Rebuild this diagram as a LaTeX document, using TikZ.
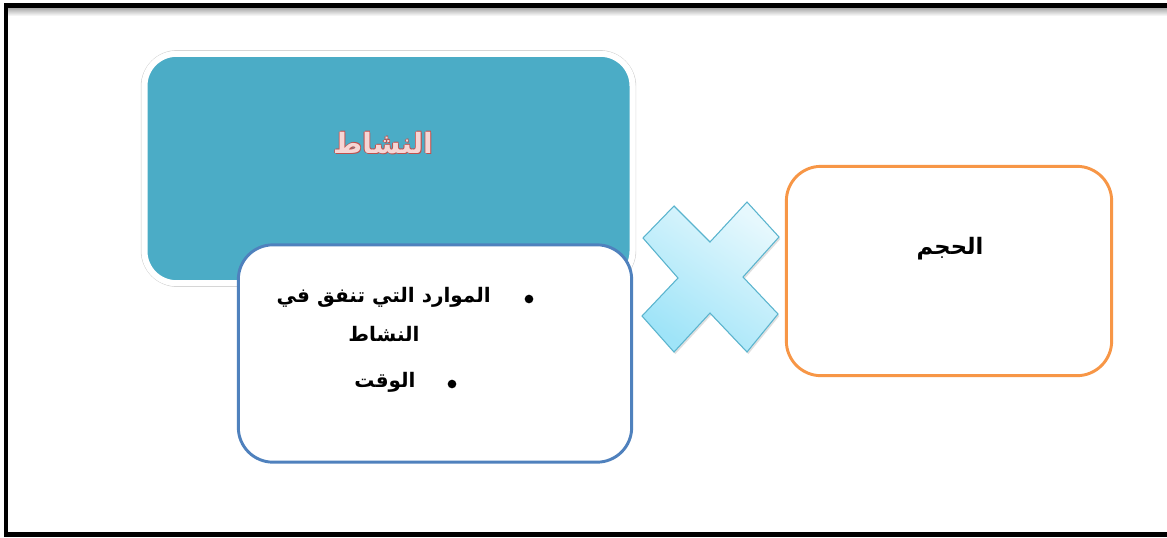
\documentclass[tikz,border=0pt]{standalone}
\usepackage{fontspec}
\usetikzlibrary{shadows}
\TeXXeTstate=1
\newfontfamily\arabicfont[Script=Arabic]{DejaVu Sans}
\definecolor{tealfill}{HTML}{4BACC6}
\definecolor{bluebord}{HTML}{4F81BD}
\definecolor{orangebord}{HTML}{F79646}
\definecolor{xbord}{HTML}{5AB4CE}
\definecolor{xlight}{HTML}{E6F8FD}
\definecolor{xdark}{HTML}{9FE4F8}
\definecolor{titlered}{HTML}{C0504D}
\definecolor{titlepink}{HTML}{F6D6D5}
\tikzset{
  frameline/.style={line width=3.6pt, black},
  tealbox/.style={draw=white, line width=4.5pt, fill=tealfill, rounded corners=24pt,
    minimum width=366pt, minimum height=172pt, inner sep=0pt,
    drop shadow={shadow xshift=1.5pt, shadow yshift=-2pt, opacity=0.35}},
  tealedge/.style={draw=black!18, line width=0.6pt, rounded corners=27pt,
    minimum width=371pt, minimum height=177pt, inner sep=0pt},
  bluebox/.style={draw=bluebord, line width=2.2pt, fill=white, rounded corners=26pt,
    minimum width=295pt, minimum height=163pt, inner sep=0pt},
  orangebox/.style={draw=orangebord, line width=2.2pt, fill=white, rounded corners=26pt,
    minimum width=244pt, minimum height=157pt, inner sep=0pt},
  artxt/.style={font=\arabicfont\bfseries\fontsize{15pt}{17pt}\selectfont, inner sep=0pt, text=black},
  titletxt/.style={font=\arabicfont\bfseries\fontsize{21pt}{24pt}\selectfont, inner sep=0pt},
  bulletdot/.style={circle, fill=black, minimum size=6.5pt, inner sep=0pt},
}
\begin{document}
\begin{tikzpicture}[x=0.75pt, y=-0.75pt]
\useasboundingbox (0,0) rectangle (1167,537);
\fill[white] (0,0) rectangle (1167,537);
% frame
\shade[top color=black!35, bottom color=white] (7,7.5) rectangle (1167,16);
\draw[frameline] (1167,5.5) -- (6,5.5) -- (6,534.5) -- (1167,534.5);
% teal box
\node[tealedge] (actedge) at (388.5,168.5) {};
\node[tealbox] (act) at (388.5,168.5) {};
\node[titletxt, text=titlered] (acttitleA) at (383.8,144.3) {\beginR النشاط\endR};
\node[titletxt, text=titlered] (acttitleB) at (382.2,143.2) {\beginR النشاط\endR};
\node[titletxt, text=titlered] (acttitleC) at (383.6,142.4) {\beginR النشاط\endR};
\node[titletxt, text=titlepink] (acttitle) at (383,143) {\beginR النشاط\endR};
% blue box
\node[bluebox] (res) at (435,353.5) {};
\node[bulletdot] (b1) at (529,299) {};
\node[artxt, anchor=east] (l1) at (491,297) {\beginR الموارد التي تنفق في\endR};
\node[artxt] (l2) at (384,334) {\beginR النشاط\endR};
\node[bulletdot] (b2) at (452,384) {};
\node[artxt] (l3) at (385,382) {\beginR الوقت\endR};
% cross
\shadedraw[draw=xbord, line width=0.8pt, top color=xlight, bottom color=xdark, shading angle=-35,
  drop shadow={shadow xshift=1pt, shadow yshift=-1.5pt, opacity=0.25}]
  (674,206) -- (710,242) -- (747,202) -- (779,237) -- (743,277) -- (778,314)
  -- (747,352) -- (710,313) -- (674,352) -- (642,316) -- (678,278) -- (643,238) -- cycle;
% orange box
\node[orangebox] (vol) at (949,271) {};
\node[artxt, font=\arabicfont\bfseries\fontsize{17pt}{19pt}\selectfont] (voltxt) at (950,249) {\beginR الحجم\endR};
\end{tikzpicture}
\end{document}
